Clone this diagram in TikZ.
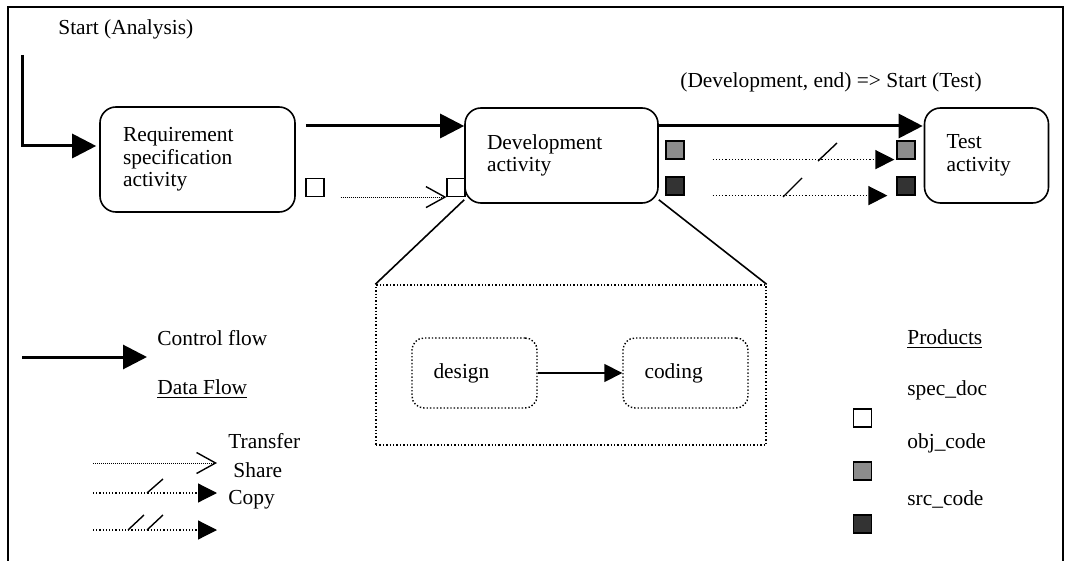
\documentclass[tikz,border=0pt]{standalone}
\usepackage{fontspec}
\setmainfont{Liberation Serif}
\usepackage{tikz}
\usetikzlibrary{arrows.meta, positioning, calc}

\definecolor{objgray}{HTML}{8C8C8C}
\definecolor{srcgray}{HTML}{333333}

\begin{document}
\begin{tikzpicture}[x=0.5pt, y=-0.5pt,
    font={\fontsize{10.7}{11.3}\selectfont},
    actbox/.style={draw, line width=0.8pt, rounded corners=8pt, align=left},
    subbox/.style={draw, densely dotted, line width=0.7pt, rounded corners=6pt, align=left,
        minimum width=62.5pt, minimum height=35pt, inner xsep=10.5pt, text width=41pt},
    prod/.style={draw, line width=0.6pt, minimum size=9pt, inner sep=0pt},
    ctrl/.style={line width=1.5pt, -{Triangle[length=12pt, width=12pt]}},
    transfer/.style={line width=0.5pt, dash pattern=on 0.5pt off 0.5pt, -{Straight Barb[length=9.5pt, width=10.5pt, line width=0.7pt]}},
    share/.style={line width=0.6pt, densely dotted, -{Triangle[length=9.5pt, width=9.5pt]}},
    txt/.style={anchor=base west, inner sep=0pt}]

    \useasboundingbox (0,0) rectangle (1065,561);
    % cadre
    \draw[line width=0.8pt] (8,561) -- (8,7) -- (1063,7) -- (1063,561);

    % activites
    \node[actbox, minimum width=97.5pt, minimum height=52.5pt, inner xsep=11.5pt, text width=74.5pt]
        (req) at (197.5,159.5) {Requirement\\specification\\activity};
    \node[actbox, minimum width=96.5pt, minimum height=47.5pt, inner xsep=11pt, text width=74.5pt]
        (dev) at (561.5,155.5) {Development\\activity\\[10pt]};
    \node[actbox, minimum width=62pt, minimum height=47.5pt, inner xsep=11pt, text width=40pt]
        (test) at (986.5,155.5) {Test\\activity\\[6pt]};

    % flux de controle
    \node[txt] (start) at (58,35) {Start (Analysis)};
    \coordinate (s0) at (22,55);
    \draw[ctrl] (s0) |- ([xshift=-1.5pt]req.west |- 0,146);
    \draw[ctrl] ([xshift=5pt]req.east |- 0,126) -- (dev.west |- 0,126);
    \draw[ctrl] (dev.east |- 0,126) -- ([xshift=-0.5pt]test.west |- 0,126);
    \node[txt] (cond) at (680,88) {(Development, end) => Start (Test)};

    % produits
    \node[prod, fill=white] (specA) at (315,187.5) {};
    \node[prod, fill=white] (specB) at (456,187.5) {};
    \node[prod, fill=objgray] (objA) at (675,150) {};
    \node[prod, fill=srcgray] (srcA) at (675,186) {};
    \node[prod, fill=objgray] (objB) at (906,150) {};
    \node[prod, fill=srcgray] (srcB) at (906,186) {};

    % flux de donnees
    \draw[transfer] ([xshift=8pt]specA.south east) -- (specB.south west);
    \draw[share] ([xshift=14pt]objA.south east) -- ([xshift=-1pt]objB.south west);
    \draw[line width=0.7pt] (818,161) -- (837,143);
    \draw[share] ([xshift=14pt]srcA.south east) -- ([xshift=-4.5pt]srcB.south west);
    \draw[line width=0.7pt] (783,197) -- (802,178);

    % detail du developpement
    \node[draw, densely dotted, line width=0.7pt, minimum width=195pt, minimum height=80pt]
        (zoom) at (571,365) {};
    \draw[line width=0.8pt] ([yshift=2pt]dev.south west) -- (zoom.north west);
    \draw[line width=0.8pt] ([yshift=2pt]dev.south east) -- (zoom.north east);
    \node[subbox] (design) at (474.5,373) {design\\[6pt]};
    \node[subbox] (coding) at (685.5,373) {coding\\[6pt]};
    \draw[line width=0.8pt, -{Triangle[length=9pt, width=9pt]}] (design) -- (coding);

    % legende : flux
    \coordinate (c1) at (22,357); \coordinate (c2) at (147,357);
    \draw[ctrl] (c1) -- (c2);
    \node[txt] (lctrl) at (157,345) {Control flow};
    \node[txt] (ldata) at (157,394) {\underline{Data Flow}};
    \node[txt] (ltra) at (228,448) {Transfer};
    \node[txt] (lsha) at (233,477) {Share};
    \node[txt] (lcop) at (228,504) {Copy};
    \coordinate (t1) at (93,463); \coordinate (t2) at (217,463);
    \coordinate (h1) at (93,493); \coordinate (h2) at (217,493);
    \coordinate (k1) at (93,530); \coordinate (k2) at (217,530);
    \draw[transfer] (t1) -- (t2);
    \draw[share] (h1) -- (h2);
    \draw[line width=0.7pt] (147,493) -- (163,479);
    \draw[share] (k1) -- (k2);
    \draw[line width=0.7pt] (128,530) -- (144,515);
    \draw[line width=0.7pt] (147,530) -- (163,515);

    % legende : produits
    \node[txt] (lprod) at (907,344) {\underline{Products}};
    \node[txt] (lspec) at (907,395) {spec\_doc};
    \node[txt] (lobj) at (907,448) {obj\_code};
    \node[txt] (lsrc) at (907,505) {src\_code};
    \node[prod, fill=white] (specL) at (862.5,418) {};
    \node[prod, fill=objgray] (objL) at (862.5,471) {};
    \node[prod, fill=srcgray] (srcL) at (862.5,524) {};
\end{tikzpicture}
\end{document}
